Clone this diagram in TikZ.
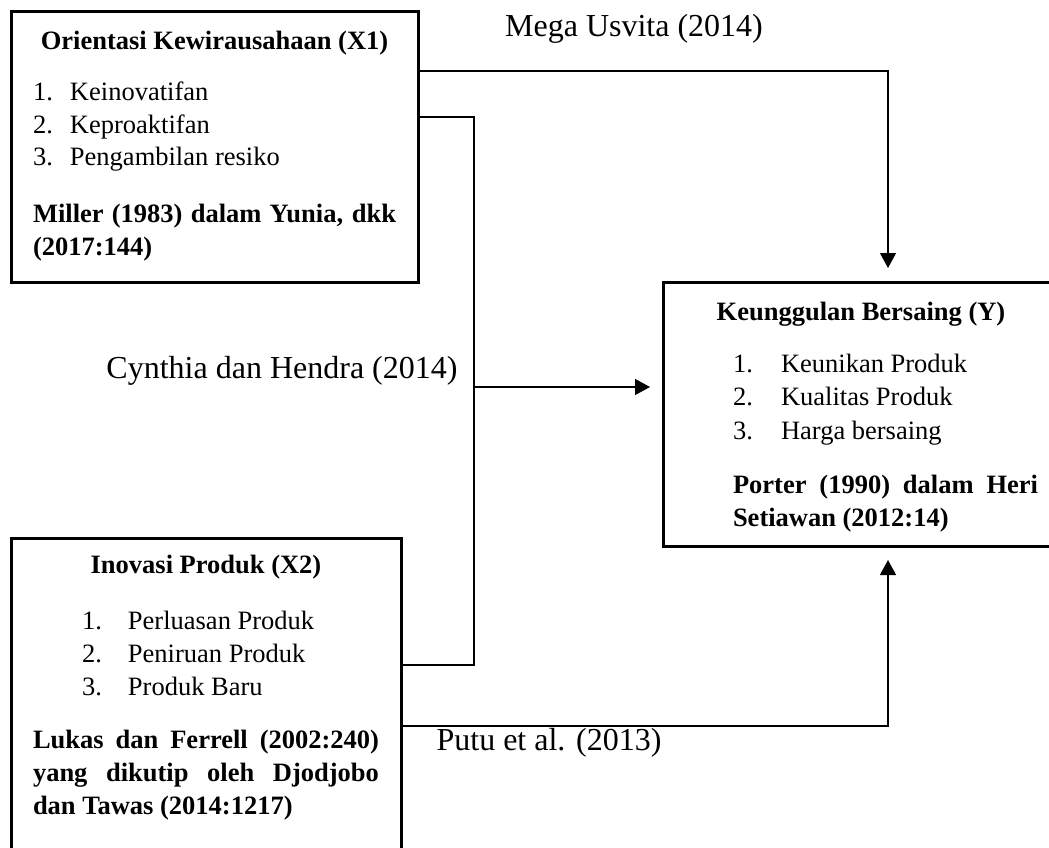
\documentclass[tikz,border=0pt]{standalone}
\usepackage{fontspec}
\setmainfont{Liberation Serif}
\usetikzlibrary{arrows.meta}

\newcommand{\numitem}[3]{\makebox[#1][l]{#2}#3\par}

\begin{document}
\begin{tikzpicture}[x=1pt, y=-1pt,
   varbox/.style={draw, line width=3pt, outer sep=0pt, inner xsep=21pt, inner ysep=0pt, anchor=north west},
   link/.style={line width=1.3pt},
   headed/.style={-{Triangle[length=15pt, width=16pt]}},
   lbl/.style={anchor=base, inner sep=0pt, font=\fontsize{32}{38}\selectfont}]

\useasboundingbox (0,0) rectangle (1049,848);
\clip (0,0) rectangle (1049,848);

\node[varbox, inner xsep=22pt] (x1) at (11,12) {\parbox[c][270pt][t]{363pt}{\fontsize{26.5}{32.5}\selectfont\sloppy
    {\centering\bfseries\rule{0pt}{38pt}Orientasi Kewirausahaan (X1)\par}
    \vspace{18.5pt}
    \numitem{37pt}{1.}{Keinovatifan}
    \numitem{37pt}{2.}{Keproaktifan}
    \numitem{37pt}{3.}{Pengambilan resiko}
    \vspace{24.5pt}
    {\bfseries Miller (1983) dalam Yunia, dkk (2017:144)\par}}};

\node[varbox] (y) at (663,282) {\parbox[c][264pt][t]{354pt}{\fontsize{26.5}{33.5}\selectfont\sloppy
    {\centering\bfseries\rule{0pt}{38pt}Keunggulan Bersaing (Y)\par}
    \vspace{18.5pt}
    \leftskip=49pt
    \numitem{48pt}{1.}{Keunikan Produk}
    \numitem{48pt}{2.}{Kualitas Produk}
    \numitem{48pt}{3.}{Harga bersaing}
    \vspace{20.5pt}
    {\bfseries Porter (1990) dalam Heri Setiawan (2012:14)\par}}};

\node[varbox, inner xsep=22pt] (x2) at (11,538) {\parbox[c][320pt][t]{346pt}{\fontsize{26.5}{33}\selectfont\sloppy
    {\centering\bfseries\rule{0pt}{35pt}Inovasi Produk (X2)\par}
    \vspace{23pt}
    \leftskip=49pt
    \numitem{46pt}{1.}{Perluasan Produk}
    \numitem{46pt}{2.}{Peniruan Produk}
    \numitem{46pt}{3.}{Produk Baru}
    \vspace{20pt}
    \leftskip=0pt
    {\bfseries Lukas dan Ferrell (2002:240) yang dikutip oleh Djodjobo dan Tawas (2014:1217)\par}}};

\node[lbl] (mega) at (634,37) {Mega Usvita (2014)};
\node[lbl] (cynthia) at (282,378) {Cynthia dan Hendra (2014)};
\node[lbl] (putu) at (549,750) {Putu et al. (2013)};

\coordinate (junc) at (474,387);

\draw[link, headed] ([yshift=-59pt]x1.north east) -| ([xshift=225pt, yshift=14pt]y.north west);
\draw[link] ([yshift=-105pt]x1.north east) -| (junc) |- ([yshift=-127pt]x2.north east);
\draw[link, headed, shorten >=13pt] (junc) -- (junc -| y.west);
\draw[link, headed] ([yshift=-188pt]x2.north east) -| ([xshift=225pt, yshift=-14pt]y.south west);

\end{tikzpicture}
\end{document}
